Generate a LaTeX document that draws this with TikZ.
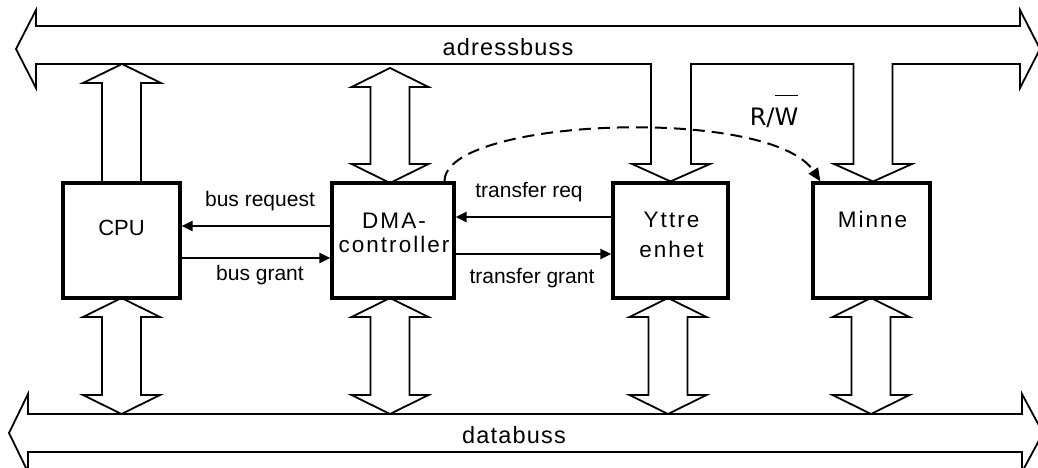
\documentclass[tikz,border=0pt]{standalone}
\usepackage{fontspec}
\setmainfont{Liberation Sans}
\newfontfamily\spacedfont[LetterSpace=9]{Liberation Sans}
\newfontfamily\busfont[LetterSpace=5]{Liberation Sans}
\newfontfamily\rwfont{DejaVu Sans}
\usetikzlibrary{arrows.meta}
% letter with a bar drawn high above it (active-low signal)
\newcommand{\highbar}[1]{\setbox0\hbox{#1}\rlap{\raisebox{29pt}{\rule{\wd0}{1.4pt}}}\box0}

\tikzset{
  unit/.style={draw, line width=3.2pt, rectangle, inner sep=0pt, minimum height=115pt},
  wide/.style={draw, line width=1.8pt, line join=miter},
  sig/.style={draw, line width=2.5pt, -{Triangle[length=11pt,width=10pt]}},
  txt/.style={anchor=base, inner sep=0pt},
  small/.style={txt, font=\fontsize{21}{25}\selectfont},
  unitname/.style={txt, font=\fontsize{22.5}{27}\spacedfont},
  busname/.style={txt, font=\fontsize{23.5}{28}\busfont},
  % two-headed bus connector, #1 = length from tip to tip
  pics/twoway/.style={code={
    \draw[wide] (-19.5,19) -- (-38.5,19) -- (0,0) -- (38.5,19) -- (19.5,19)
      -- (19.5,#1-19) -- (38.5,#1-19) -- (0,#1) -- (-38.5,#1-19) -- (-19.5,#1-19) -- cycle;
  }},
}

\begin{document}
\begin{tikzpicture}[x=1pt,y=-1pt]
\useasboundingbox (0,0) rectangle (1038,468);

% units
\node[unit, minimum width=117pt] (cpu)   at (121.5,240.5) {};
\node[unit, minimum width=122pt] (dma)   at (393,240.5) {};
\node[unit, minimum width=115pt] (io)    at (670.5,240.5) {};
\node[unit, minimum width=117pt] (mem)   at (871.5,240.5) {};

\node[txt, font=\fontsize{22}{26}\selectfont] (cputext) at (121.5,235.5) {CPU};
\node[unitname] (dmatext1) at (394,228) {DMA-};
\node[unitname] (dmatext2) at (394,252) {controller};
\node[unitname] (iotext1) at (671.5,227.5) {Yttre};
\node[unitname] (iotext2) at (671.5,257.5) {enhet};
\node[unitname] (memtext) at (872.5,227.5) {Minne};

% address bus with the branches down to the peripheral and the memory
\draw[wide] (36,26) -- (36,10) -- (16,49) -- (36,88) -- (36,64)
  -- (651,64) -- (651,164) -- (632,164) -- (io.north) -- (710,164) -- (691,164) -- (691,64)
  -- (853.5,64) -- (853.5,164) -- (834,164) -- (873,181.5) -- (912,164) -- (892.5,164) -- (892.5,64)
  -- (1020,64) -- (1020,88) -- (1040,49) -- (1020,10) -- (1020,26) -- cycle;
\node[busname] (abus) at (508,56) {adressbuss};

% data bus
\draw[wide] (28,414) -- (28,394) -- (9,433) -- (28,472) -- (28,452)
  -- (1022,452) -- (1022,472) -- (1043,433) -- (1022,394) -- (1022,414) -- cycle;
\node[busname] (dbus) at (514,443) {databuss};

% CPU drives the address bus
\draw[wide] (102,181.5) -- (102,83) -- (83,83) -- (122,64) -- (161,83) -- (141,83) -- (141,181.5);

% DMA controller to and from the address bus
\pic at (390,68) {twoway=115};

% units to and from the data bus
\pic at (121.5,298) {twoway=116};
\pic at (390,298) {twoway=116};
\pic at (668,298) {twoway=116};
\pic at (871,298) {twoway=116};

% handshake signals
\draw[sig] (dma.west |- 0,226) -- (cpu.east |- 0,226);
\draw[sig] (cpu.east |- 0,258) -- (dma.west |- 0,258);
\draw[sig] (io.west |- 0,217) -- (dma.east |- 0,217);
\draw[sig] (dma.east |- 0,254) -- (io.west |- 0,254);

\node[small] (lreq)  at (260,206) {bus request};
\node[small] (lgnt)  at (260,280) {bus grant};
\node[small] (ltreq) at (529,197) {transfer req};
\node[small] (ltgnt) at (532,283) {transfer grant};

% read/write strobe from the DMA controller to the memory
\draw[line width=2pt, dash pattern=on 12pt off 7pt, -{Triangle[length=13pt,width=11pt]}]
  ([xshift=-11pt]dma.north east) .. controls (443,118) and (770,105) .. ([xshift=9pt]mem.north west);
\node[txt, font=\fontsize{24}{28}\rwfont] (rw) at (774,125) {R/\highbar{W}};
\end{tikzpicture}
\end{document}
